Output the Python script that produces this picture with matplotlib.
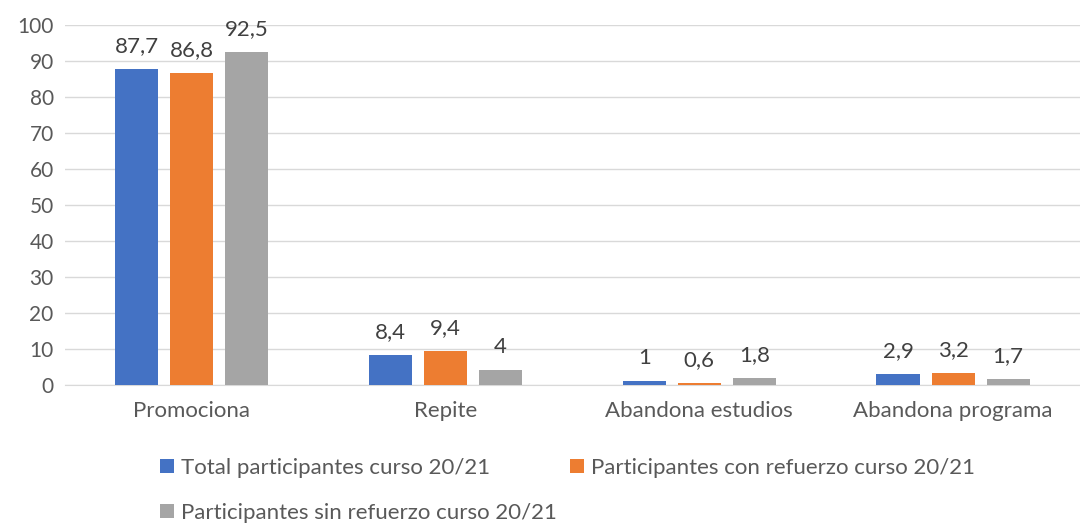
import matplotlib
matplotlib.use('Agg')
import matplotlib.pyplot as plt
import numpy as np

categorias = ['Promociona', 'Repite', 'Abandona estudios', 'Abandona programa']
total = [87.7, 8.4, 1, 2.9]
con_refuerzo = [86.8, 9.4, 0.6, 3.2]
sin_refuerzo = [92.5, 4, 1.8, 1.7]
series = ['Total participantes curso 20/21',
          'Participantes con refuerzo curso 20/21',
          'Participantes sin refuerzo curso 20/21']
colores = ['#4472C4', '#ED7D31', '#A5A5A5']

plt.rcParams['font.family'] = ['Lato', 'DejaVu Sans']
gris = '#595959'

fig = plt.figure(figsize=(10.8, 5.25), dpi=100)
ax = fig.add_axes([0.060, 0.267, 0.940, 0.685])

x = np.arange(len(categorias))
ancho = 0.17
paso = 0.217
barras = []
for i, (vals, nom, col) in enumerate(zip([total, con_refuerzo, sin_refuerzo], series, colores)):
    b = ax.bar(x + (i - 1) * paso, vals, ancho, color=col, label=nom, zorder=3)
    barras.append(b)
    for xi, v in zip(x + (i - 1) * paso, vals):
        ax.text(xi, v + 3.6, ('%g' % v).replace('.', ','), ha='center', va='bottom',
                fontsize=16, color='#404040')

ax.set_xlim(-0.5, 3.5)
ax.set_ylim(0, 100)
ax.set_yticks(range(0, 101, 10))
ax.set_xticks(x)
ax.set_xticklabels(categorias)
ax.grid(axis='y', color='#D9D9D9', linewidth=1, zorder=0)
for s in ['top', 'right', 'left']:
    ax.spines[s].set_visible(False)
ax.spines['bottom'].set_color('#D9D9D9')
ax.tick_params(axis='x', length=0, labelsize=16, colors=gris, pad=12)
ax.tick_params(axis='y', length=0, labelsize=15, colors=gris, pad=8)

# leyenda en dos filas, como en Excel
opts = dict(frameon=False, fontsize=16, labelcolor=gris, handlelength=0.63,
            handleheight=0.63, handletextpad=0.3, borderpad=0.4)
fig.legend(handles=barras[:2], loc='center left', bbox_to_anchor=(0.130, 1 - 468 / 525),
           ncol=2, columnspacing=3.6, **opts)
fig.legend(handles=barras[2:], loc='center left', bbox_to_anchor=(0.130, 1 - 513 / 525), **opts)

fig.savefig('out.png', dpi=100)
